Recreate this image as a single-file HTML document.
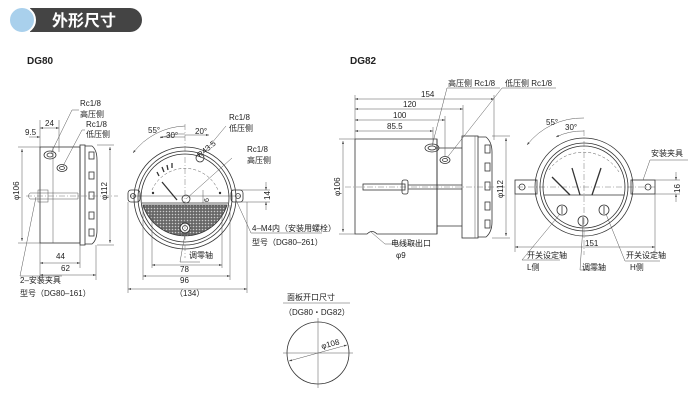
<!DOCTYPE html>
<html><head><meta charset="utf-8"><style>
html,body{margin:0;padding:0;background:#fff;}
svg{display:block;font-family:"Liberation Sans","Noto Sans CJK SC",sans-serif;}
text{font-size:8px;fill:#222;}
.l{stroke:#333;stroke-width:0.8;fill:none;}
.t{stroke:#555;stroke-width:0.5;fill:none;}
.c{stroke:#777;stroke-width:0.5;fill:none;stroke-dasharray:6 2 1 2;}
</style></head><body>
<svg width="700" height="407" viewBox="0 0 700 407">
<defs>
<marker id="a" markerWidth="6" markerHeight="4" refX="6" refY="2" orient="auto-start-reverse"><path d="M0,0L6,2L0,4z" fill="#444"/></marker>
<pattern id="h" width="3" height="3" patternUnits="userSpaceOnUse"><rect width="3" height="3" fill="#666"/><circle cx="1.5" cy="1.5" r="0.8" fill="#ccc"/></pattern>
</defs>
<!-- header -->
<path d="M30,8 H130 a12,12 0 0 1 0,24 H30z" fill="#444"/>
<circle cx="22" cy="20" r="13" fill="#a9d0ec" stroke="#fff" stroke-width="2"/>
<text x="52" y="26" style="font-size:16px;font-weight:bold;fill:#fff">外形尺寸</text>
<text x="27" y="64" style="font-size:10px;font-weight:bold">DG80</text>
<text x="350" y="64" style="font-size:10px;font-weight:bold">DG82</text>

<!-- DG80 side -->
<rect x="40" y="147" width="40" height="96" class="l"/>
<line x1="53" y1="147" x2="53" y2="243" class="t"/>
<rect x="80" y="145" width="5" height="100" class="l"/>
<path d="M85,146 H92 Q97,150 97,160 V230 Q97,240 92,244 H85" class="l"/>
<g class="l"><rect x="89" y="152" width="5" height="7"/><rect x="89" y="172" width="5" height="7"/><rect x="89" y="192" width="5" height="7"/><rect x="89" y="212" width="5" height="7"/><rect x="89" y="229" width="5" height="7"/></g>
<ellipse cx="50" cy="155" rx="6" ry="4" class="l"/><ellipse cx="50" cy="155" rx="3" ry="2" class="l"/>
<ellipse cx="62" cy="168" rx="5" ry="3.5" class="l"/><ellipse cx="62" cy="168" rx="2.5" ry="1.5" class="l"/>
<line x1="26" y1="196" x2="118" y2="196" class="c"/>
<path d="M30,193 H78 V199 H30 Q27,196 30,193z" class="t"/>
<rect x="38" y="190" width="10" height="12" class="t"/>
<line x1="22" y1="149" x2="22" y2="241" class="t" marker-start="url(#a)" marker-end="url(#a)"/>
<line x1="18" y1="147" x2="40" y2="147" class="t"/><line x1="18" y1="243" x2="40" y2="243" class="t"/>
<text transform="translate(19,200) rotate(-90)">φ106</text>
<line x1="110" y1="147" x2="110" y2="243" class="t" marker-start="url(#a)" marker-end="url(#a)"/>
<line x1="97" y1="145" x2="114" y2="145" class="t"/><line x1="97" y1="245" x2="114" y2="245" class="t"/>
<text transform="translate(107,200) rotate(-90)">φ112</text>
<line x1="40" y1="128" x2="59" y2="128" class="t" marker-start="url(#a)" marker-end="url(#a)"/><text x="45" y="126">24</text>
<line x1="29" y1="137" x2="40" y2="137" class="t" marker-end="url(#a)"/><text x="25" y="135">9.5</text>
<line x1="40" y1="120" x2="40" y2="147" class="t"/><line x1="59" y1="120" x2="59" y2="152" class="t"/>
<line x1="40" y1="243" x2="40" y2="280" class="t"/><line x1="80" y1="245" x2="80" y2="268" class="t"/><line x1="96" y1="245" x2="96" y2="280" class="t"/>
<line x1="40" y1="263" x2="80" y2="263" class="t" marker-start="url(#a)" marker-end="url(#a)"/><text x="56" y="259">44</text>
<line x1="40" y1="275" x2="96" y2="275" class="t" marker-start="url(#a)" marker-end="url(#a)"/><text x="61" y="271">62</text>
<text x="80" y="106">Rc1/8</text><text x="80" y="117">高压侧</text>
<text x="86" y="127">Rc1/8</text><text x="86" y="137">低压侧</text>
<path d="M51,153 L72,110 H79" class="t"/><path d="M63,166 L82,130 H85" class="t"/>
<path d="M36,197 L20,276 H62" class="t"/>
<text x="20" y="283">2–安装夹具</text><text x="20" y="296">型号（DG80–161）</text>

<!-- DG80 front -->
<g>
<line x1="130" y1="196" x2="240" y2="196" class="t"/>
<rect x="128" y="190" width="12" height="12" rx="3" class="l"/><rect x="231" y="190" width="12" height="12" rx="3" class="l"/>
<circle cx="133" cy="196" r="2.5" class="l"/><circle cx="238" cy="196" r="2.5" class="l"/>
<circle cx="185" cy="198" r="51" class="l" stroke-width="1.2"/>
<circle cx="185" cy="198" r="47" class="l"/>
<circle cx="185" cy="198" r="44" class="l"/>
<path d="M144,207 A44,44 0 0 0 226,207z" fill="url(#hatch)"/>
<path d="M143,205 H227 A44,44 0 0 1 143,205z" fill="url(#h)" stroke="#333" stroke-width="0.8"/>
<line x1="142" y1="203" x2="228" y2="203" class="l"/>
<circle cx="185" cy="228" r="5" fill="#fff" stroke="#333"/><circle cx="185" cy="228" r="2.5" class="l"/>
<path d="M152,190 A36,36 0 0 1 218,190" class="t" stroke-dasharray="3 2"/>
<g stroke="#333" stroke-width="1.3"><line x1="157" y1="172" x2="159" y2="176"/><line x1="162" y1="167" x2="164" y2="172"/><line x1="167" y1="165" x2="168" y2="170"/><line x1="172" y1="163" x2="172" y2="168"/></g>
<line x1="162" y1="182" x2="177" y2="200" stroke="#333" stroke-width="1.3"/>
<circle cx="186" cy="199" r="4" class="l"/>
<circle cx="200" cy="158" r="4" class="l"/>
<circle cx="153" cy="193" r="1.2" fill="#333"/><circle cx="220" cy="193" r="1.2" fill="#333"/>
<line x1="185" y1="124" x2="185" y2="258" class="c"/>
<path d="M133,153 A68,68 0 0 1 185,126" class="t" marker-start="url(#a)"/>
<line x1="160" y1="137" x2="185" y2="137" class="t"/><path d="M160,138 A60,60 0 0 1 185,134" class="t" marker-start="url(#a)"/>
<line x1="185" y1="135" x2="209" y2="135" class="t" marker-end="url(#a)"/>
<text x="148" y="133">55°</text><text x="166" y="138">30°</text><text x="195" y="134">20°</text>
<line x1="186" y1="199" x2="232" y2="158" class="t"/>
<text transform="translate(200,158) rotate(-40)">R43.5</text>
<text x="229" y="120">Rc1/8</text><text x="229" y="131">低压侧</text>
<text x="247" y="152">Rc1/8</text><text x="247" y="163">高压侧</text>
<line x1="201" y1="156" x2="226" y2="126" class="t"/>
<line x1="203" y1="190" x2="203" y2="203" class="t"/><text transform="translate(209,202) rotate(-90)" style="font-size:7px">6</text>
<line x1="232" y1="190" x2="270" y2="190" class="t"/><line x1="232" y1="202" x2="270" y2="202" class="t"/>
<line x1="266" y1="182" x2="266" y2="190" class="t" marker-end="url(#a)"/><line x1="266" y1="210" x2="266" y2="202" class="t" marker-end="url(#a)"/>
<text transform="translate(270,200) rotate(-90)">14</text>
<path d="M236,200 L251,233 H322" class="t"/>
<text x="252" y="231">4–M4内（安装用螺栓）</text><text x="252" y="245">型号（DG80–261）</text>
<path d="M185,234 L180,262 H200" class="t"/><text x="189" y="258">调零轴</text>
<line x1="152" y1="214" x2="152" y2="268" class="t"/><line x1="222" y1="214" x2="222" y2="268" class="t"/>
<line x1="143" y1="205" x2="143" y2="280" class="t"/><line x1="230" y1="205" x2="230" y2="280" class="t"/>
<line x1="128" y1="202" x2="128" y2="293" class="t"/><line x1="247" y1="202" x2="247" y2="293" class="t"/>
<line x1="152" y1="265" x2="222" y2="265" class="t" marker-start="url(#a)" marker-end="url(#a)"/><text x="180" y="272">78</text>
<line x1="143" y1="276" x2="230" y2="276" class="t" marker-start="url(#a)" marker-end="url(#a)"/><text x="180" y="283">96</text>
<line x1="128" y1="289" x2="247" y2="289" class="t" marker-start="url(#a)" marker-end="url(#a)"/><text x="175" y="296">（134）</text>
</g>

<!-- DG82 side -->
<path d="M355,139 H437 V234 H377 Q372,229 367,234 H355z" class="l"/>
<line x1="437" y1="148" x2="462" y2="148" class="l"/><line x1="437" y1="226" x2="462" y2="226" class="l"/>
<line x1="437" y1="139" x2="437" y2="234" class="l"/>
<rect x="462" y="136" width="16" height="102" class="l"/>
<line x1="475" y1="136" x2="475" y2="238" class="t"/>
<path d="M478,137 H486 Q492,142 492,152 V222 Q492,232 486,237 H478" class="l"/>
<g class="l"><rect x="485" y="145" width="5" height="8"/><rect x="485" y="163" width="5" height="8"/><rect x="485" y="182" width="5" height="8"/><rect x="485" y="202" width="5" height="8"/><rect x="485" y="220" width="5" height="8"/></g>
<ellipse cx="432" cy="148" rx="7" ry="4" class="l"/><ellipse cx="432" cy="148" rx="4" ry="2" class="l"/>
<ellipse cx="445" cy="160" rx="5" ry="3.5" class="l"/><ellipse cx="445" cy="160" rx="2.5" ry="1.5" class="l"/>
<line x1="345" y1="187" x2="505" y2="187" class="c"/>
<rect x="363" y="184" width="42" height="6" class="l"/><rect x="402" y="180" width="6" height="14" rx="2" class="l"/>
<line x1="408" y1="185" x2="462" y2="185" class="l"/><line x1="408" y1="189" x2="462" y2="189" class="l"/>
<line x1="343" y1="141" x2="343" y2="232" class="t" marker-start="url(#a)" marker-end="url(#a)"/>
<line x1="339" y1="139" x2="355" y2="139" class="t"/><line x1="339" y1="234" x2="355" y2="234" class="t"/>
<text transform="translate(340,196) rotate(-90)">φ106</text>
<line x1="506" y1="138" x2="506" y2="236" class="t" marker-start="url(#a)" marker-end="url(#a)"/>
<line x1="492" y1="136" x2="510" y2="136" class="t"/><line x1="492" y1="238" x2="510" y2="238" class="t"/>
<text transform="translate(503,198) rotate(-90)">φ112</text>
<line x1="355" y1="95" x2="355" y2="139" class="t"/>
<line x1="355" y1="99" x2="494" y2="99" class="t" marker-start="url(#a)" marker-end="url(#a)"/><text x="421" y="97">154</text>
<line x1="355" y1="109" x2="463" y2="109" class="t" marker-start="url(#a)" marker-end="url(#a)"/><text x="403" y="107">120</text>
<line x1="355" y1="120" x2="445" y2="120" class="t" marker-start="url(#a)" marker-end="url(#a)"/><text x="393" y="118">100</text>
<line x1="355" y1="131" x2="433" y2="131" class="t" marker-start="url(#a)" marker-end="url(#a)"/><text x="387" y="129">85.5</text>
<line x1="494" y1="95" x2="494" y2="140" class="t"/><line x1="463" y1="105" x2="463" y2="136" class="t"/>
<line x1="445" y1="116" x2="445" y2="157" class="t"/><line x1="433" y1="127" x2="433" y2="144" class="t"/>
<text x="448" y="86">高压侧 Rc1/8</text><text x="505" y="86">低压侧 Rc1/8</text>
<path d="M432,146 L447,88 H500" class="t"/><path d="M446,159 L502,88 H556" class="t"/>
<path d="M371,232 L385,244 H420" class="t"/>
<text x="391" y="246">电线取出口</text><text x="396" y="258">φ9</text>

<!-- DG82 front -->
<line x1="517" y1="187" x2="655" y2="187" class="c"/>
<rect x="515" y="180" width="22" height="14" class="l"/><rect x="631" y="180" width="24" height="14" class="l"/>
<circle cx="522" cy="187" r="3" class="l"/><circle cx="648" cy="187" r="3" class="l"/>
<circle cx="584" cy="187" r="49" class="l" stroke-width="1.2"/>
<circle cx="584" cy="187" r="44" class="l"/>
<circle cx="584" cy="187" r="41" class="l"/>
<line x1="544" y1="195" x2="624" y2="195" class="l"/>
<path d="M549,170 A42,42 0 0 1 619,172" class="t" stroke-dasharray="3 2"/>
<g stroke="#333" stroke-width="1.3"><line x1="552" y1="177" x2="570" y2="195"/><line x1="572" y1="168" x2="580" y2="195"/><line x1="601" y1="168" x2="592" y2="195"/></g>
<g class="l"><circle cx="562" cy="210" r="5"/><circle cx="583" cy="221" r="5"/><circle cx="604" cy="210" r="5"/></g>
<g stroke="#333" stroke-width="0.8"><line x1="562" y1="206" x2="562" y2="214"/><line x1="583" y1="217" x2="583" y2="225"/><line x1="604" y1="206" x2="604" y2="214"/></g>
<line x1="584" y1="130" x2="584" y2="255" class="c"/>
<path d="M527,145 A70,70 0 0 1 584,118" class="t" marker-start="url(#a)"/>
<path d="M556,137 A60,60 0 0 1 584,131" class="t" marker-start="url(#a)"/>
<text x="546" y="125">55°</text><text x="565" y="130">30°</text>
<text x="651" y="156">安装夹具</text>
<path d="M643,180 L650,160 H688" class="t"/>
<line x1="655" y1="180" x2="680" y2="180" class="t"/><line x1="655" y1="194" x2="680" y2="194" class="t"/>
<line x1="676" y1="172" x2="676" y2="180" class="t" marker-end="url(#a)"/><line x1="676" y1="202" x2="676" y2="194" class="t" marker-end="url(#a)"/>
<text transform="translate(680,193) rotate(-90)">16</text>
<line x1="515" y1="194" x2="515" y2="252" class="t"/><line x1="655" y1="194" x2="655" y2="252" class="t"/>
<line x1="515" y1="247" x2="655" y2="247" class="t" marker-start="url(#a)" marker-end="url(#a)"/><text x="585" y="246">151</text>
<path d="M560,214 L522,260 H560" class="t"/><text x="527" y="258">开关设定轴</text><text x="527" y="270">L侧</text>
<path d="M583,226 L580,270 H600" class="t"/><text x="582" y="270">调零轴</text>
<path d="M606,214 L625,261 H660" class="t"/><text x="626" y="258">开关设定轴</text><text x="630" y="270">H侧</text>

<!-- panel cutout -->
<text x="287" y="300">面板开口尺寸</text>
<line x1="283" y1="303" x2="350" y2="303" class="t"/>
<text x="284" y="315">（DG80・DG82）</text>
<circle cx="318" cy="353" r="31" class="l"/>
<line x1="283" y1="353" x2="353" y2="353" class="t"/><line x1="318" y1="318" x2="318" y2="388" class="t"/>
<line x1="289" y1="361" x2="347" y2="345" class="t" marker-start="url(#a)" marker-end="url(#a)"/>
<text transform="translate(322,349) rotate(-15)">φ108</text>
</svg>
</body></html>
